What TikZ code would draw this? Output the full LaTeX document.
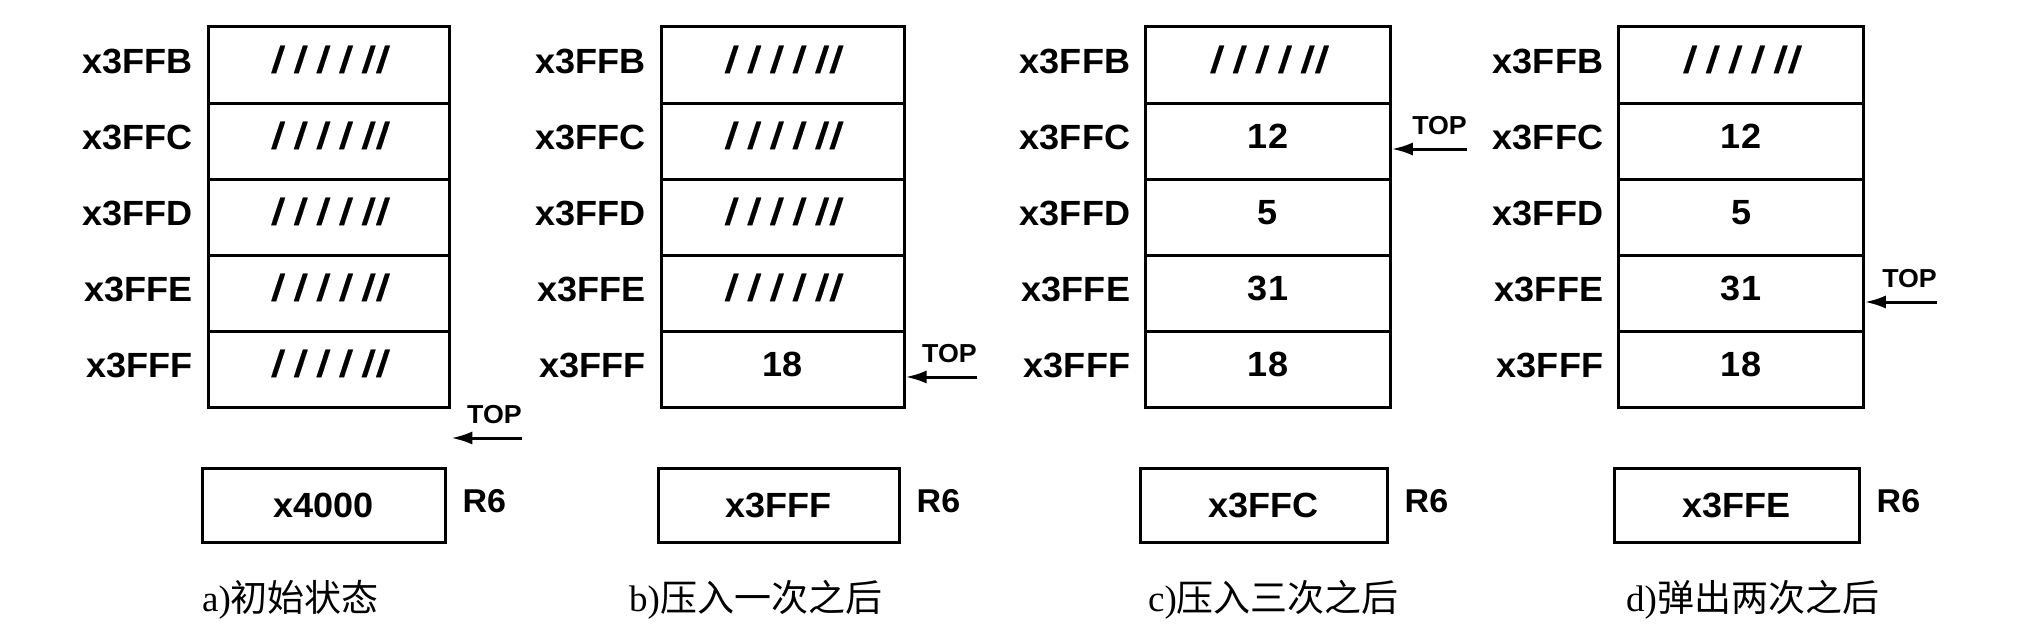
\documentclass[tikz,border=0pt]{standalone}
\usepackage{fontspec}
\setmainfont[FakeStretch=1.03]{Liberation Sans}
\newfontfamily\cjkfont{Noto Sans CJK SC}
\newfontfamily\capfont{Liberation Serif}
\newfontfamily\slashfont[FakeStretch=1.1,FakeSlant=0.12,FakeBold=0.4]{Liberation Sans}
\usetikzlibrary{arrows.meta}
\newcommand\slashrow{{\slashfont\fontsize{37}{40}\selectfont / / / / /\kern3pt/}}
\tikzset{
  cell/.style={draw, line width=3pt, minimum height=76pt, inner sep=0pt,
    text height=25pt, text depth=10pt, font=\fontsize{35}{40}\selectfont\bfseries},
  addr/.style={anchor=east, inner sep=0pt, font=\fontsize{35}{40}\selectfont\bfseries},
  regbox/.style={draw, line width=3pt, minimum height=74pt, inner sep=0pt,
    font=\fontsize{35}{40}\selectfont\bfseries},
  reglbl/.style={anchor=west, inner sep=0pt, font=\fontsize{33}{38}\selectfont\bfseries},
  toplbl/.style={anchor=south east, inner sep=0pt, font=\fontsize{26}{30}\selectfont\bfseries},
  ptr/.style={line width=3pt, -{Latex[length=21pt,width=13pt]}},
  caption/.style={anchor=west, inner sep=0pt, font=\fontsize{37}{42}\selectfont},
}
\begin{document}
\begin{tikzpicture}[x=1pt,y=-1pt]
\useasboundingbox[fill=white] (0,0) rectangle (2036,642);

% ---------- panel a ----------
\node[cell, minimum width=241.5pt] (a1) at (329,65)  {\slashrow};
\node[cell, minimum width=241.5pt] (a2) at (329,141) {\slashrow};
\node[cell, minimum width=241.5pt] (a3) at (329,217) {\slashrow};
\node[cell, minimum width=241.5pt] (a4) at (329,293) {\slashrow};
\node[cell, minimum width=241.5pt] (a5) at (329,369) {\slashrow};
\node[regbox, minimum width=243pt] (ra) at (323.5,505) {x4000};
\node[reglbl] (rla) at ([xshift=16pt,yshift=3.5pt]ra.east) {R6};
\coordinate (ta) at (522,438);
\draw[ptr] (ta) -- (ta -| a5.east);
\node[toplbl] (tla) at ([yshift=14pt]ta) {TOP};
\node[caption] (ca) at (202,600) {{\capfont a)}{\cjkfont 初始状态}};

% ---------- panel b ----------
\node[cell, minimum width=243pt] (b1) at (782.5,65)  {\slashrow};
\node[cell, minimum width=243pt] (b2) at (782.5,141) {\slashrow};
\node[cell, minimum width=243pt] (b3) at (782.5,217) {\slashrow};
\node[cell, minimum width=243pt] (b4) at (782.5,293) {\slashrow};
\node[cell, minimum width=243pt] (b5) at (782.5,369) {18};
\node[regbox, minimum width=241pt] (rb) at (778.5,505) {x3FFF};
\node[reglbl] (rlb) at ([xshift=16pt,yshift=3.5pt]rb.east) {R6};
\coordinate (tb) at (977,377);
\draw[ptr] (tb) -- (tb -| b5.east);
\node[toplbl] (tlb) at ([yshift=14pt]tb) {TOP};
\node[caption] (cb) at (629,600) {{\capfont b)}{\cjkfont 压入一次之后}};

% ---------- panel c ----------
\node[cell, minimum width=244.5pt] (c1) at (1268,65)  {\slashrow};
\node[cell, minimum width=244.5pt] (c2) at (1268,141) {12};
\node[cell, minimum width=244.5pt] (c3) at (1268,217) {5};
\node[cell, minimum width=244.5pt] (c4) at (1268,293) {31};
\node[cell, minimum width=244.5pt] (c5) at (1268,369) {18};
\node[regbox, minimum width=247pt] (rc) at (1263.5,505) {x3FFC};
\node[reglbl] (rlc) at ([xshift=16pt,yshift=3.5pt]rc.east) {R6};
\coordinate (tc) at (1467,149);
\draw[ptr] (tc) -- (tc -| c2.east);
\node[toplbl] (tlc) at ([yshift=14pt]tc) {TOP};
\node[caption] (cc) at (1148,600) {{\capfont c)}{\cjkfont 压入三次之后}};

% ---------- panel d ----------
\node[cell, minimum width=244.5pt] (d1) at (1741,65)  {\slashrow};
\node[cell, minimum width=244.5pt] (d2) at (1741,141) {12};
\node[cell, minimum width=244.5pt] (d3) at (1741,217) {5};
\node[cell, minimum width=244.5pt] (d4) at (1741,293) {31};
\node[cell, minimum width=244.5pt] (d5) at (1741,369) {18};
\node[regbox, minimum width=245pt] (rd) at (1736.5,505) {x3FFE};
\node[reglbl] (rld) at ([xshift=16pt,yshift=3.5pt]rd.east) {R6};
\coordinate (td) at (1937,302);
\draw[ptr] (td) -- (td -| d4.east);
\node[toplbl] (tld) at ([yshift=14pt]td) {TOP};
\node[caption] (cd) at (1626,600) {{\capfont d)}{\cjkfont 弹出两次之后}};

% ---------- address labels ----------
\foreach \p in {a,b,c,d}{
  \foreach \i/\ad in {1/B,2/C,3/D,4/E,5/F}{
    \node[addr] (l\p\i) at ([xshift=-14pt,yshift=4pt]\p\i.west) {x3FF\ad};
  }
}
\end{tikzpicture}
\end{document}
